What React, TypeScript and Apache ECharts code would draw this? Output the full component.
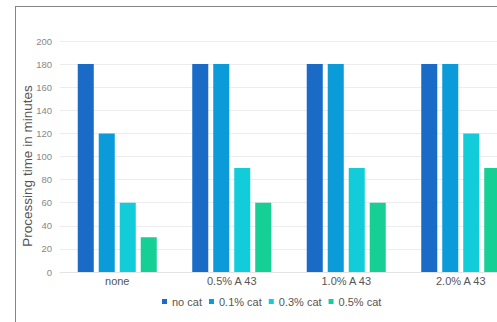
import React, { useEffect, useRef } from "react";
import * as echarts from "echarts";

const categories = ["none", "0.5% A 43", "1.0% A 43", "2.0% A 43"];
const seriesNames = ["no cat", "0.1% cat", "0.3% cat", "0.5% cat"];
const noCat = [180, 180, 180, 180];
const cat01 = [120, 180, 180, 180];
const cat03 = [60, 90, 90, 120];
const cat05 = [30, 60, 60, 90];
const yTicks = [0, 20, 40, 60, 80, 100, 120, 140, 160, 180, 200];

const colors = ["#1a6bc6", "#0b9bd9", "#12cdd9", "#16cf94"];
const FONT = "'Liberation Sans', Arial, sans-serif";

export default function App() {
  const ref = useRef<HTMLDivElement>(null);

  useEffect(() => {
    if (!ref.current) return;
    const chart = echarts.init(ref.current, undefined, { renderer: "svg" });
    const values = [noCat, cat01, cat03, cat05];
    chart.setOption({
      animation: false,
      backgroundColor: "#ffffff",
      textStyle: { fontFamily: FONT },
      grid: { left: 44, top: 34, right: 18, bottom: 51, containLabel: false },
      legend: {
        left: 146,
        top: 289,
        padding: 0,
        itemWidth: 5,
        itemHeight: 5,
        itemGap: 7,
        icon: "rect",
        textStyle: { fontSize: 11, color: "#555", fontFamily: FONT },
        data: seriesNames.map((n, i) =>
          i === 0 ? { name: n, textStyle: { padding: [0, 19, 0, 0] } } : { name: n }
        ),
      },
      xAxis: {
        type: "category",
        data: categories,
        axisLine: { show: true, lineStyle: { color: "#e3e3e3" } },
        axisTick: { show: false },
        axisLabel: { fontSize: 11, color: "#555", margin: 3 },
      },
      yAxis: {
        type: "value",
        min: yTicks[0],
        max: yTicks[yTicks.length - 1],
        interval: 20,
        axisLine: { show: false },
        axisTick: { show: false },
        splitLine: { lineStyle: { color: "#ececec" } },
        axisLabel: { fontSize: 9.5, color: "#888", margin: 8 },
      },
      graphic: [
        {
          type: "text",
          x: 11,
          y: 159,
          rotation: Math.PI / 2,
          style: {
            text: "Processing time in minutes",
            fontSize: 13.5,
            fill: "#555",
            fontFamily: FONT,
            align: "center",
            verticalAlign: "middle",
          },
        },
      ],
      series: seriesNames.map((name, i) => ({
        name,
        type: "bar",
        data: values[i],
        barGap: "31%",
        barCategoryGap: "31%",
        itemStyle: { color: colors[i] },
      })),
    });
    return () => chart.dispose();
  }, []);

  return (
    <div
      style={{
        position: "fixed",
        left: 0,
        top: 0,
        width: 497,
        height: 322,
        overflow: "hidden",
        background: "#fff",
      }}
    >
      <div
        style={{
          position: "absolute",
          left: 15,
          top: 6,
          borderLeft: "1px solid #858585",
          borderTop: "1px solid #858585",
        }}
      >
        <div ref={ref} style={{ width: 520, height: 316 }} />
      </div>
    </div>
  );
}
